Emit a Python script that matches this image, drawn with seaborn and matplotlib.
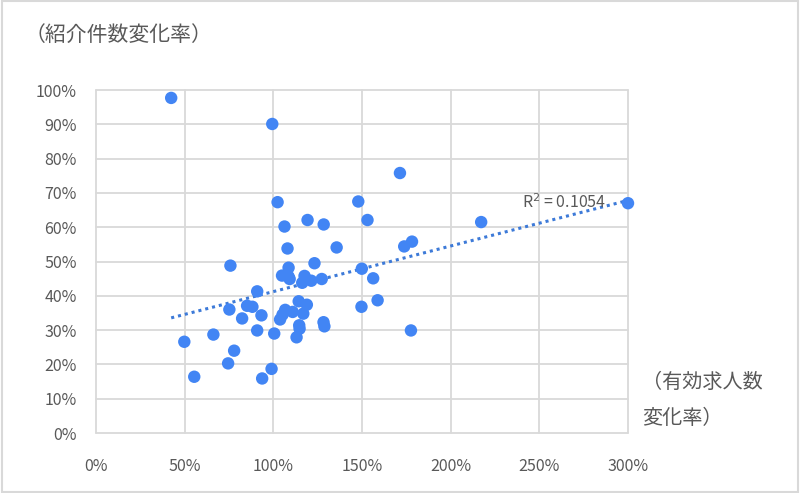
import numpy as np
import pandas as pd
import matplotlib.pyplot as plt
import seaborn as sns
from matplotlib.ticker import PercentFormatter

# 有効求人数変化率 (x) と 紹介件数変化率 (y)
job_offer_change = [
    0.424, 0.994, 1.024, 1.479, 1.714, 1.063, 1.193, 1.284, 1.531, 1.080,
    1.357, 1.738, 1.782, 2.172, 3.000, 0.758, 1.086, 1.232, 1.499, 1.563,
    1.049, 1.086, 1.092, 1.176, 1.163, 1.214, 1.273, 0.909, 0.752, 0.852,
    0.882, 0.824, 0.933, 1.143, 1.189, 1.169, 1.067, 1.109, 1.052, 1.038,
    1.146, 1.148, 1.131, 1.283, 1.288, 1.497, 1.588, 1.776, 0.909, 1.005,
    0.498, 0.662, 0.779, 0.745, 0.990, 0.554, 0.937,
]
referral_change = [
    0.977, 0.901, 0.673, 0.675, 0.758, 0.602, 0.621, 0.608, 0.621, 0.538,
    0.541, 0.544, 0.558, 0.615, 0.670, 0.488, 0.482, 0.495, 0.479, 0.451,
    0.459, 0.456, 0.449, 0.458, 0.438, 0.444, 0.449, 0.413, 0.360, 0.371,
    0.368, 0.334, 0.343, 0.384, 0.374, 0.348, 0.359, 0.353, 0.345, 0.331,
    0.314, 0.304, 0.279, 0.323, 0.311, 0.368, 0.387, 0.299, 0.299, 0.290,
    0.266, 0.287, 0.240, 0.203, 0.187, 0.164, 0.159,
]
x_ticks = [0, 0.5, 1.0, 1.5, 2.0, 2.5, 3.0]
y_ticks = [0, 0.1, 0.2, 0.3, 0.4, 0.5, 0.6, 0.7, 0.8, 0.9, 1.0]
r2_label = "R$^2$ = 0.1054"

df = pd.DataFrame({"x": job_offer_change, "y": referral_change})

sns.set_style("whitegrid")
plt.rcParams["font.family"] = ["Noto Sans CJK JP", "DejaVu Sans"]

grid_col = "#d9d9d9"
text_col = "#595959"

fig = plt.figure(figsize=(8, 4.93), dpi=100)
ax = fig.add_axes([0.12, 0.1217, 0.665, 0.6957])

sns.scatterplot(data=df, x="x", y="y", ax=ax, color="#4285f4", s=80,
                edgecolor="none", zorder=3, clip_on=False)

# linear trend line across the data range
slope, icpt = np.polyfit(df["x"], df["y"], 1)
xs = np.array([df["x"].min(), df["x"].max()])
ax.plot(xs, slope * xs + icpt, linestyle=(0, (1, 1.3)), color="#3d7ad8",
        linewidth=2.2, zorder=2)
ax.text(0.80, 0.672, r2_label, transform=ax.transAxes, fontsize=11.5,
        color=text_col, ha="left", va="center")

ax.set_xlim(0, 3)
ax.set_ylim(0, 1)
ax.set_xticks(x_ticks)
ax.set_yticks(y_ticks)
ax.xaxis.set_major_formatter(PercentFormatter(1.0, decimals=0))
ax.yaxis.set_major_formatter(PercentFormatter(1.0, decimals=0))
ax.grid(True, color=grid_col, linewidth=1.3)
for g in ax.get_xgridlines() + ax.get_ygridlines():
    g.set_clip_on(False)
for sp in ax.spines.values():
    sp.set_visible(False)
ax.tick_params(axis="x", pad=18, labelsize=11.5, colors=text_col, length=0)
ax.tick_params(axis="y", pad=14, labelsize=11.5, colors=text_col, length=0)
ax.set_xlabel("")
ax.set_ylabel("")

fig.text(0.031, 0.929, "（紹介件数変化率）", fontsize=15, color=text_col,
         ha="left", va="center")
fig.text(0.803, 0.225, "（有効求人数", fontsize=14.5, color=text_col,
         ha="left", va="center")
fig.text(0.803, 0.152, "変化率）", fontsize=14.5, color=text_col,
         ha="left", va="center")

# outer chart border
fig.patches.append(plt.Rectangle((0.002, 0.003), 0.996, 0.994, transform=fig.transFigure,
                                 fill=False, edgecolor=grid_col, linewidth=1.5))

fig.savefig("out.png", dpi=100)
